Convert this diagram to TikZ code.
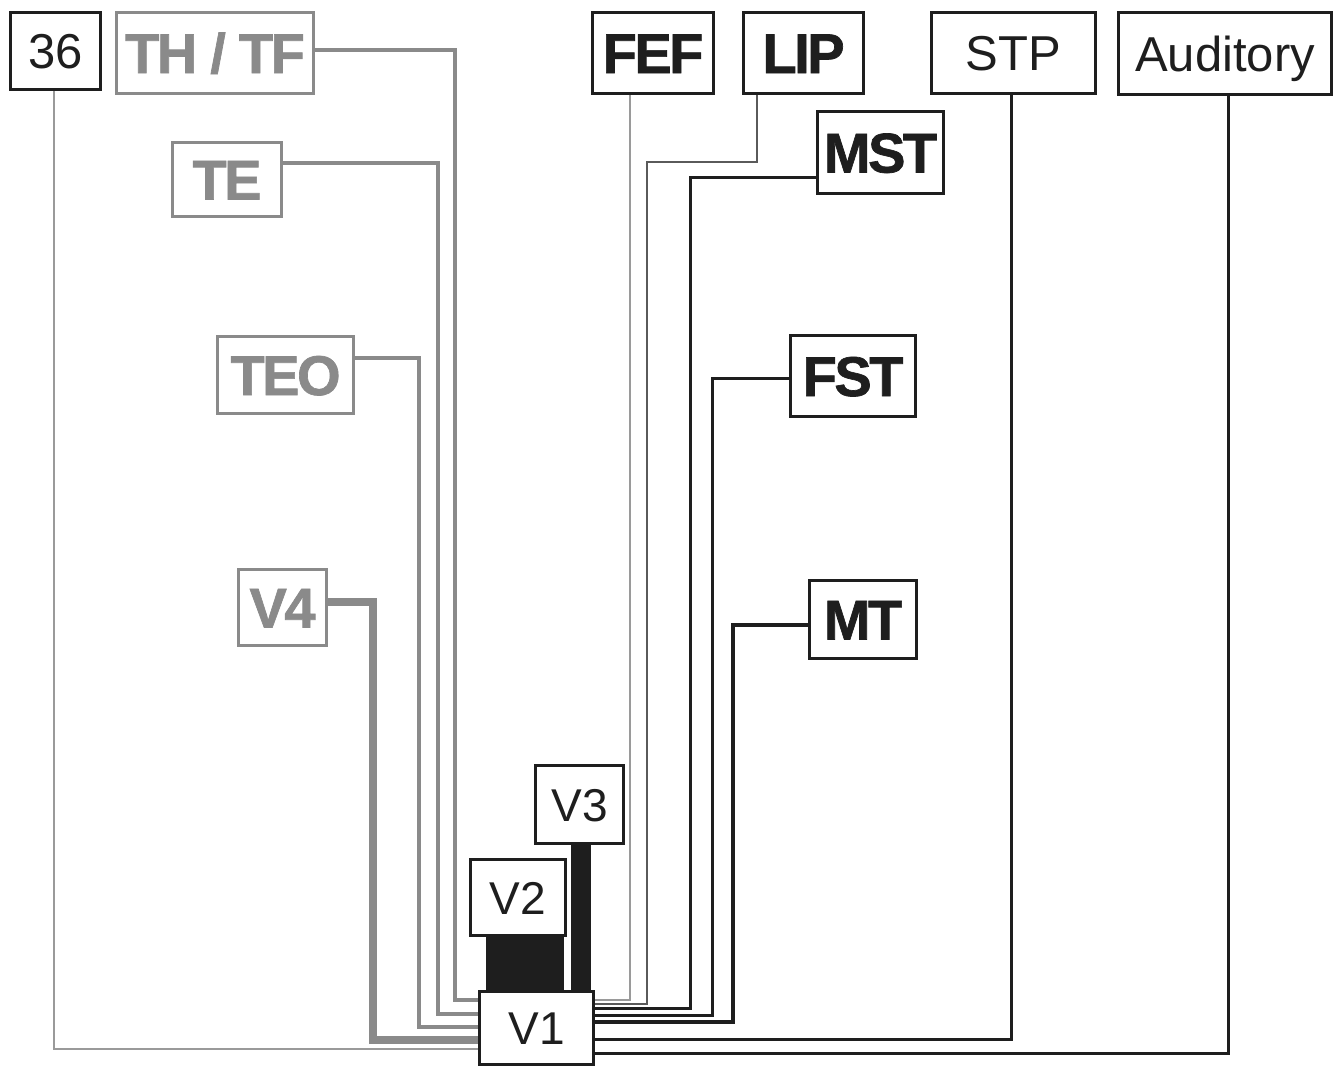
\documentclass[tikz,border=0pt]{standalone}
\usepackage{fontspec}
\setmainfont{Liberation Sans}
\newfontfamily\heavy[LetterSpace=-4.5,FakeBold=1.2]{Liberation Sans Bold}
\definecolor{gr}{HTML}{8A8A8A}
\definecolor{lgr}{HTML}{9A9A9A}
\definecolor{dgr}{HTML}{5A5A5A}
\definecolor{ink}{HTML}{1E1E1E}
\tikzset{
  basebox/.style={line width=3pt, fill=white, inner sep=0pt, anchor=north west, text depth=0pt},
  rbox/.style={basebox, draw=ink, text=ink, font=\fontsize{49}{50}\selectfont, text height=35pt},
  vbox/.style={basebox, draw=ink, text=ink, font=\fontsize{46}{48}\selectfont, text height=33pt},
  kbox/.style={basebox, draw=ink, text=ink, font=\heavy\fontsize{56}{60}\selectfont, text height=40pt},
  gbox/.style={basebox, draw=gr, text=gr, font=\heavy\fontsize{56}{60}\selectfont, text height=40pt},
  conn/.style={line join=miter},
}
\begin{document}
\begin{tikzpicture}[x=1pt,y=-1pt]
\useasboundingbox[fill=white] (0,0) rectangle (1339,1066);
% boxes
\node[rbox, minimum width=90pt, minimum height=77pt] (n36) at (9,11) {36};
\node[gbox, minimum width=197pt, minimum height=81pt] (thtf) at (115,11) {TH / TF};
\node[gbox, minimum width=109pt, minimum height=74pt] (te) at (171,141) {TE};
\node[gbox, minimum width=136pt, minimum height=77pt] (teo) at (216,335) {TEO};
\node[gbox, minimum width=88pt, minimum height=76pt] (v4) at (237,568) {V4};
\node[kbox, minimum width=121pt, minimum height=81pt] (fef) at (591,11) {FEF};
\node[kbox, minimum width=120pt, minimum height=81pt] (lip) at (742,11) {LIP};
\node[rbox, minimum width=164pt, minimum height=81pt] (stp) at (930,11) {STP};
\node[rbox, minimum width=213pt, minimum height=82pt] (aud) at (1117,11) {Auditory};
\node[kbox, minimum width=126pt, minimum height=82pt] (mst) at (816,110) {MST};
\node[kbox, minimum width=125pt, minimum height=81pt] (fst) at (789,334) {FST};
\node[kbox, minimum width=107pt, minimum height=78pt] (mt) at (808,579) {MT};
\node[vbox, minimum width=88pt, minimum height=78pt] (v3) at (534,764) {V3};
\node[vbox, minimum width=95pt, minimum height=76pt] (v2) at (469,858) {V2};
\node[vbox, minimum width=114pt, minimum height=73pt] (v1) at (478,990) {V1};
% thick V2/V3 -> V1 bands
\draw[ink, line width=78pt] (525,0 |- v2.south) -- (525,0 |- v1.north);
\draw[ink, line width=20pt] (581,0 |- v3.south) -- (581,0 |- v1.north);
% left (ventral) connectors
\draw[conn, lgr, line width=2pt] (54,0 |- n36.south) |- (v1.west |- 0,1049);
\draw[conn, gr, line width=4pt] (thtf.east |- 0,50) -| (455,1000) -- (v1.west |- 0,1000);
\draw[conn, gr, line width=4pt] (te.east |- 0,163) -| (438,1014) -- (v1.west |- 0,1014);
\draw[conn, gr, line width=4pt] (teo.east |- 0,358) -| (419,1027) -- (v1.west |- 0,1027);
\draw[conn, gr, line width=8pt] (v4.east |- 0,602) -| (373,1040) -- (v1.west |- 0,1040);
% right (dorsal) connectors
\draw[conn, lgr, line width=2pt] (630,0 |- fef.south) |- (v1.east |- 0,1000);
\draw[conn, dgr, line width=1.5pt] (757,0 |- lip.south) -- (757,162) -| (647,1004) -- (v1.east |- 0,1004);
\draw[conn, ink, line width=3pt] (mst.west |- 0,177) -| (690,1008) -- (v1.east |- 0,1008);
\draw[conn, ink, line width=3pt] (fst.west |- 0,378) -| (712,1015) -- (v1.east |- 0,1015);
\draw[conn, ink, line width=4pt] (mt.west |- 0,625) -| (733,1022) -- (v1.east |- 0,1022);
\draw[conn, ink, line width=3pt] (1011,0 |- stp.south) |- (v1.east |- 0,1039);
\draw[conn, ink, line width=3pt] (1228,0 |- aud.south) |- (v1.east |- 0,1053);
\end{tikzpicture}
\end{document}
